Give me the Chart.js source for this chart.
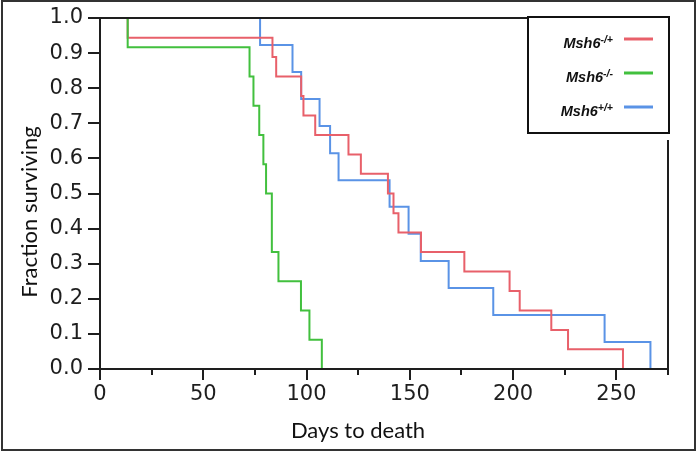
<!DOCTYPE html>
<html>
<head>
<meta charset="utf-8">
<script src="https://cdn.jsdelivr.net/npm/chart.js@4.4.1/dist/chart.umd.min.js"></script>
<style>
html, body { margin: 0; padding: 0; background: #fff; }
#wrap { position: relative; width: 697px; height: 454px; }
#frame { position: absolute; left: 1px; top: 0; width: 691px; height: 447px; border: 2px solid #333; pointer-events: none; }
canvas { display: block; }
</style>
</head>
<body>
<div id="wrap"><canvas id="c" width="697" height="454"></canvas><div id="frame"></div></div>
<script>
// ---- data (Kaplan-Meier steps) ----
const geneName = 'Msh6';
const genotypes = ['-/+', '-/-', '+/+'];
const xTitle = 'Days to death';
const yTitle = 'Fraction surviving';

const daysHet = [0, 13.4, 83.5, 85.3, 97.4, 98.5, 104.2, 120.3, 126.3, 139.4, 142.1, 144.5, 155.4, 176.4, 198.3, 203.2, 218.5, 226.6, 253.2];
const survHet = [1.0, 0.944, 0.889, 0.833, 0.778, 0.722, 0.667, 0.611, 0.556, 0.5, 0.444, 0.389, 0.333, 0.278, 0.222, 0.167, 0.111, 0.056, 0.0];

const daysKo = [0, 13.4, 72.4, 74.3, 77.1, 79.1, 80.4, 83.2, 86.4, 97.3, 101.4, 107.4];
const survKo = [1.0, 0.917, 0.833, 0.75, 0.667, 0.583, 0.5, 0.333, 0.25, 0.167, 0.083, 0.0];

const daysWt = [0, 77.5, 93.2, 97.4, 106.3, 111.4, 115.5, 140.2, 149.4, 155.3, 168.8, 190.4, 244.3, 266.5];
const survWt = [1.0, 0.923, 0.846, 0.769, 0.692, 0.615, 0.538, 0.462, 0.385, 0.308, 0.231, 0.154, 0.077, 0.0];

const xMin = 0, xMax = 275, xMajorStep = 50, xMinorStep = 25;
const yMin = 0, yMax = 1, yStep = 0.1;

const colors = ['#e8606a', '#42c03e', '#5a93e6'];

function pts(xs, ys) { return xs.map((x, i) => ({ x: x, y: ys[i] })); }

const axisColor = '#1e1e1e';

const legendBox = {
  id: 'legendBox',
  afterDraw(chart) {
    const { ctx, chartArea: a } = chart;
    const right = a.right + 1, top = a.top - 1, left = right - 141, bottom = top + 116;
    ctx.save();
    ctx.fillStyle = '#fff';
    ctx.fillRect(left, top, right - left + 2, bottom - top + 7);
    ctx.strokeStyle = '#111';
    ctx.lineWidth = 2;
    ctx.strokeRect(left, top, right - left, bottom - top);
    chart.data.datasets.forEach((ds, i) => {
      const y = top + 22 + i * 34;
      ctx.strokeStyle = ds.borderColor;
      ctx.lineWidth = 3;
      ctx.beginPath();
      ctx.moveTo(right - 45, y);
      ctx.lineTo(right - 16, y);
      ctx.stroke();
      ctx.fillStyle = '#111';
      ctx.textAlign = 'right';
      ctx.textBaseline = 'alphabetic';
      const supX = right - 56;
      ctx.font = 'italic bold 10.5px "Liberation Sans"';
      ctx.fillText(genotypes[i], supX, y + 4);
      const w = ctx.measureText(genotypes[i]).width;
      ctx.font = 'italic bold 14.5px "Liberation Sans"';
      ctx.fillText(geneName, supX - w, y + 9);
    });
    ctx.restore();
  }
};

const axisTitles = {
  id: 'axisTitles',
  afterDraw(chart) {
    const { ctx, chartArea: a } = chart;
    ctx.save();
    ctx.fillStyle = '#111';
    ctx.font = '22px Lato';
    ctx.textAlign = 'center';
    ctx.textBaseline = 'alphabetic';
    ctx.fillText(xTitle, a.left + 258, 438);
    ctx.translate(37, a.top + 194);
    ctx.rotate(-Math.PI / 2);
    ctx.fillText(yTitle, 0, 0);
    ctx.restore();
  }
};

new Chart(document.getElementById('c'), {
  type: 'line',
  data: {
    datasets: [
      { label: geneName + genotypes[0], data: pts(daysHet, survHet), borderColor: colors[0], order: 1 },
      { label: geneName + genotypes[1], data: pts(daysKo, survKo), borderColor: colors[1], order: 0 },
      { label: geneName + genotypes[2], data: pts(daysWt, survWt), borderColor: colors[2], order: 2 }
    ]
  },
  options: {
    responsive: false,
    animation: false,
    devicePixelRatio: 1,
    layout: { padding: { top: 18, right: 29, left: 0, bottom: 0 } },
    datasets: { line: { stepped: 'before', borderWidth: 2, pointRadius: 0, fill: false, tension: 0 } },
    plugins: { legend: { display: false }, tooltip: { enabled: false } },
    scales: {
      x: {
        type: 'linear', position: 'bottom', min: xMin, max: xMax,
        ticks: { stepSize: xMajorStep, includeBounds: false, autoSkip: false, maxRotation: 0,
                 font: { family: 'DejaVu Sans', size: 21 }, color: axisColor, padding: 2 },
        grid: { drawOnChartArea: false, drawTicks: true, tickLength: 11, color: axisColor, lineWidth: 2 },
        border: { display: true, color: axisColor, width: 2, z: 1 },
        afterFit: s => { s.height = 85; }
      },
      xMinor: {
        type: 'linear', position: 'bottom', weight: -1, min: xMin, max: xMax,
        ticks: { stepSize: xMinorStep, display: false },
        grid: { drawOnChartArea: false, drawTicks: true, tickLength: 6, color: axisColor, lineWidth: 2 },
        border: { display: false },
        afterFit: s => { s.height = 0; }
      },
      xTop: {
        type: 'linear', position: 'top', min: xMin, max: xMax,
        ticks: { display: false }, grid: { display: false },
        border: { display: true, color: axisColor, width: 2, z: 1 },
        afterFit: s => { s.height = 0; }
      },
      y: {
        type: 'linear', position: 'left', min: yMin, max: yMax,
        ticks: { stepSize: yStep, callback: v => Number(v).toFixed(1),
                 font: { family: 'DejaVu Sans', size: 21 }, color: axisColor, padding: 5 },
        grid: { drawOnChartArea: false, drawTicks: true, tickLength: 12, color: axisColor, lineWidth: 2 },
        border: { display: true, color: axisColor, width: 2, z: 1 },
        afterFit: s => { s.width = 100; }
      },
      yRight: {
        type: 'linear', position: 'right', min: yMin, max: yMax,
        ticks: { display: false }, grid: { display: false },
        border: { display: true, color: axisColor, width: 2, z: 1 },
        afterFit: s => { s.width = 0; }
      }
    }
  },
  plugins: [legendBox, axisTitles]
});
</script>
</body>
</html>
